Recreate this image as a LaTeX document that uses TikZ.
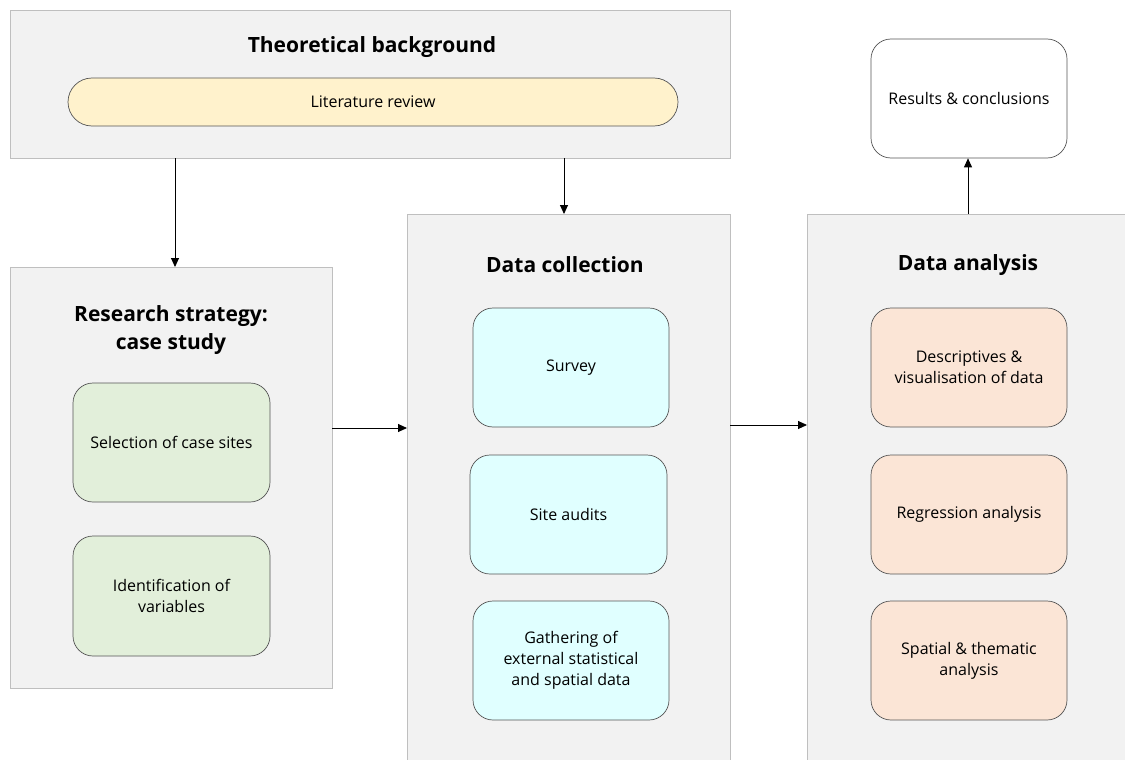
\documentclass[tikz,border=0pt]{standalone}
\usepackage{fontspec}
\setmainfont{Open Sans}
\usetikzlibrary{arrows.meta}
\definecolor{panelfill}{HTML}{F2F2F2}
\definecolor{panelline}{HTML}{BFBFBF}
\definecolor{boxline}{HTML}{555555}
\definecolor{yel}{HTML}{FFF2CC}
\definecolor{grn}{HTML}{E2EFDA}
\definecolor{cyn}{HTML}{E0FFFF}
\definecolor{org}{HTML}{FBE5D6}
\tikzset{
  x=1pt, y=-1pt,
  panel/.style={draw=panelline, fill=panelfill, line width=0.8pt},
  ttl/.style={font=\fontsize{21}{28}\selectfont\bfseries, align=center},
  inbox/.style={draw=boxline, line width=0.7pt, rounded corners=20pt, align=center,
     font=\fontsize{16}{21}\selectfont, inner sep=0pt},
  conn/.style={line width=0.9pt, -{Triangle[length=9pt,width=8pt]}},
}
\begin{document}
\begin{tikzpicture}
\useasboundingbox (0,0) rectangle (1125,760);
\clip (0,0) rectangle (1125,760);
\fill[white] (0,0) rectangle (1125,760);
% panels
\draw[panel] (10,10) rectangle (730,158);
\draw[panel] (10,267) rectangle (332,688);
\draw[panel] (407,214) rectangle (730,770);
\draw[panel] (807,214) rectangle (1135,770);
\node[ttl] (tb) at (372,47) {Theoretical background};
\node[ttl] (rs) at (171,330) {Research strategy:\\case study};
\node[ttl] (dc) at (565,265) {Data collection};
\node[ttl] (da) at (968,265) {Data analysis};
% inner boxes
\draw[draw=boxline, line width=0.7pt, fill=yel, rounded corners=24pt] (68,78) rectangle (678,126);
\node[font=\fontsize{16}{21}\selectfont] (lr) at (373,102) {Literature review};
\node[inbox, fill=white, minimum width=196pt, minimum height=119pt] (res) at (969,98.5) {Results \& conclusions};
\node[inbox, fill=grn, minimum width=197pt, minimum height=119pt] (sel) at (171.5,442.5) {Selection of case sites};
\node[inbox, fill=grn, minimum width=197pt, minimum height=120pt] (idv) at (171.5,596) {Identification of\\variables};
\node[inbox, fill=cyn, minimum width=196pt, minimum height=119pt] (sur) at (571,367.5) {Survey};
\node[inbox, fill=cyn, minimum width=197pt, minimum height=119pt] (sit) at (568.5,514.5) {Site audits};
\node[inbox, fill=cyn, minimum width=196pt, minimum height=119pt] (gat) at (571,660.5) {Gathering of\\external statistical\\and spatial data};
\node[inbox, fill=org, minimum width=196pt, minimum height=119pt] (des) at (969,367.5) {Descriptives \&\\visualisation of data};
\node[inbox, fill=org, minimum width=196pt, minimum height=119pt] (reg) at (969,514.5) {Regression analysis};
\node[inbox, fill=org, minimum width=196pt, minimum height=119pt] (spa) at (969,660.5) {Spatial \& thematic\\analysis};
% connector anchors on panels
\coordinate (a1s) at (175,158);
\coordinate (a1e) at (175,267);
\coordinate (a2s) at (564,158);
\coordinate (a2e) at (564,214);
\coordinate (a3s) at (332,428);
\coordinate (a3e) at (407,428);
\coordinate (a4s) at (730,425);
\coordinate (a4e) at (807,425);
\coordinate (a5s) at (968,214);
\draw[conn] (a1s) -- (a1e);
\draw[conn] (a2s) -- (a2e);
\draw[conn] (a3s) -- (a3e);
\draw[conn] (a4s) -- (a4e);
\draw[conn] (a5s) -- (res.south -| a5s);
\end{tikzpicture}
\end{document}
